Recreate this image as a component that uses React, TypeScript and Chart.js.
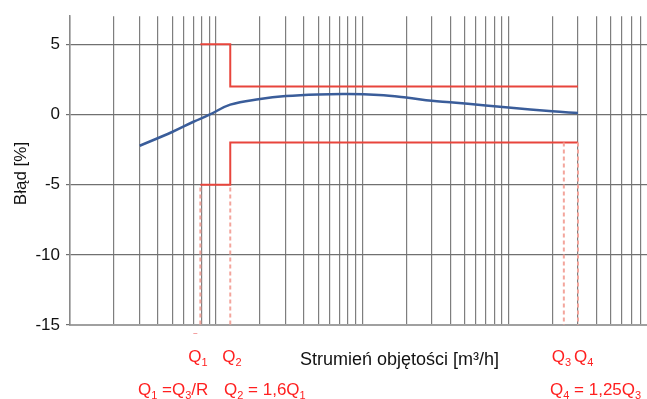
import React, { useEffect, useRef } from "react";
import { Chart, registerables } from "chart.js";

Chart.register(...registerables);

// Error curve of the meter (flow in arbitrary log units, error in %)
const curveX = [3, 5, 7, 9, 12.5, 20, 30, 50, 80, 130, 200, 300, 400, 700, 1000, 2000, 3000];
const curveY = [-2.23, -1.25, -0.52, -0.02, 0.7, 1.1, 1.31, 1.43, 1.46, 1.38, 1.2, 0.98, 0.87, 0.64, 0.49, 0.22, 0.1];

// Characteristic flows
const Q1 = 7.8;
const Q2 = 12.5;
const Q3 = 2400;
const Q4 = 3000;

// Maximum permissible error limits
const upperLimitX = [Q1, Q2, Q2, Q4];
const upperLimitY = [5, 5, 2, 2];
const lowerLimitX = [Q1, Q2, Q2, Q4];
const lowerLimitY = [-5, -5, -2, -2];

// Dashed markers (start of each marker, all run down to the axis minimum)
const markerX = [Q1, Q2, Q3, Q4];
const markerTopY = [-5.2, -5.2, -2, -2];

const yTicks = [-15, -10, -5, 0, 5];
const gridMantissas = [1, 2, 3, 4, 5, 6, 7, 8, 9];
const gridDecades = [1, 10, 100, 1000];

const yTitle = "Błąd [%]";
const xTitle = "Strumień objętości [m³/h]";

const FONT = '"Liberation Sans", Arial, sans-serif';
const RED_TEXT = "#ff1f1f";

type Part = [string, boolean?];

function drawRich(ctx: CanvasRenderingContext2D, x: number, y: number, parts: Part[], size: number) {
  let cx = x;
  for (const [t, sub] of parts) {
    if (sub) {
      ctx.font = `${Math.round(size * 0.62)}px ${FONT}`;
      ctx.fillText(t, cx, y + 4);
    } else {
      ctx.font = `${size}px ${FONT}`;
      ctx.fillText(t, cx, y);
    }
    cx += ctx.measureText(t).width;
  }
}

const textPlugin = {
  id: "textPlugin",
  afterDraw(chart: any) {
    const ctx: CanvasRenderingContext2D = chart.ctx;
    const xs = chart.scales.x;
    ctx.save();
    ctx.textBaseline = "alphabetic";
    ctx.textAlign = "left";

    // y title
    ctx.save();
    ctx.translate(26, 173.5);
    ctx.rotate(-Math.PI / 2);
    ctx.textAlign = "center";
    ctx.fillStyle = "#111";
    ctx.font = `17px ${FONT}`;
    ctx.fillText(yTitle, 0, 0);
    ctx.restore();

    // x title
    ctx.fillStyle = "#111";
    ctx.font = `18px ${FONT}`;
    ctx.fillText(xTitle, 300, 365);

    // Q labels
    ctx.fillStyle = RED_TEXT;
    const p1 = xs.getPixelForValue(Q1);
    const p2 = xs.getPixelForValue(Q2);
    const p3 = xs.getPixelForValue(Q3);
    const p4 = xs.getPixelForValue(Q4);
    drawRich(ctx, p1 - 12, 362, [["Q"], ["1", true]], 17);
    drawRich(ctx, p2 - 8, 362, [["Q"], ["2", true]], 17);
    drawRich(ctx, p3 - 12, 362, [["Q"], ["3", true]], 17);
    drawRich(ctx, p4 - 4, 362, [["Q"], ["4", true]], 17);

    drawRich(ctx, 138, 395, [["Q"], ["1", true], [" =Q"], ["3", true], ["/R"]], 17);
    drawRich(ctx, 224, 395, [["Q"], ["2", true], [" = 1,6Q"], ["1", true]], 17);
    drawRich(ctx, 550, 395, [["Q"], ["4", true], [" = 1,25Q"], ["3", true]], 17);

    // small stray dash below the axis
    ctx.strokeStyle = "#f4a0a0";
    ctx.lineWidth = 1;
    ctx.beginPath();
    ctx.moveTo(p1 - 7, 333.5);
    ctx.lineTo(p1 - 3, 333.5);
    ctx.stroke();

    ctx.restore();
  },
};

export default function App() {
  const ref = useRef<HTMLCanvasElement | null>(null);

  useEffect(() => {
    if (!ref.current) return;
    const pts = (xs: number[], ys: number[]) => xs.map((x, i) => ({ x, y: ys[i] }));
    const markerSets = markerX.map((x, i) => ({
      data: [
        { x, y: markerTopY[i] },
        { x, y: -15 },
      ],
      borderColor: "#f3a59c",
      borderWidth: 2,
      borderDash: [4, 3],
      pointRadius: 0,
      tension: 0,
    }));
    const chart = new Chart(ref.current, {
      type: "line",
      data: {
        datasets: [
          ...markerSets,
          {
            data: pts(upperLimitX, upperLimitY),
            borderColor: "#e8453c",
            borderWidth: 2,
            pointRadius: 0,
            tension: 0,
          },
          {
            data: pts(lowerLimitX, lowerLimitY),
            borderColor: "#e8453c",
            borderWidth: 2,
            pointRadius: 0,
            tension: 0,
          },
          {
            data: pts(curveX, curveY),
            borderColor: "#3a5d9a",
            borderWidth: 2.5,
            pointRadius: 0,
            tension: 0.4,
          },
        ] as any,
      },
      options: {
        responsive: false,
        animation: false,
        devicePixelRatio: 1,
        layout: { padding: { top: 12, right: 0, left: 0, bottom: 0 } },
        plugins: { legend: { display: false }, tooltip: { enabled: false } },
        scales: {
          x: {
            type: "logarithmic",
            min: 1,
            max: 8900,
            afterBuildTicks: (scale: any) => {
              const t: any[] = [];
              gridDecades.forEach((d) => gridMantissas.forEach((m) => t.push({ value: m * d })));
              scale.ticks = t;
            },
            afterFit: (scale: any) => {
              scale.height = 74;
            },
            ticks: { display: false },
            grid: { color: "#7e7e7e", lineWidth: 1.2, drawTicks: false },
            border: { color: "#a0a0a0", width: 2 },
          },
          y: {
            type: "linear",
            min: -15,
            max: 7,
            afterBuildTicks: (scale: any) => {
              scale.ticks = yTicks.map((v) => ({ value: v }));
            },
            afterFit: (scale: any) => {
              scale.width = 70;
            },
            ticks: {
              color: "#111",
              font: { family: FONT, size: 17 },
              padding: 6,
              callback: (v: any) => String(v),
            },
            grid: { color: "#707070", lineWidth: 1.2, tickLength: 4 },
            border: { color: "#8a8a8a", width: 1.5 },
          },
        },
      },
      plugins: [textPlugin],
    });
    return () => chart.destroy();
  }, []);

  return (
    <div style={{ position: "absolute", left: 0, top: 0, width: 647, height: 399, background: "#fff" }}>
      <canvas ref={ref} width={647} height={399} style={{ display: "block", width: 647, height: 399 }} />
    </div>
  );
}
